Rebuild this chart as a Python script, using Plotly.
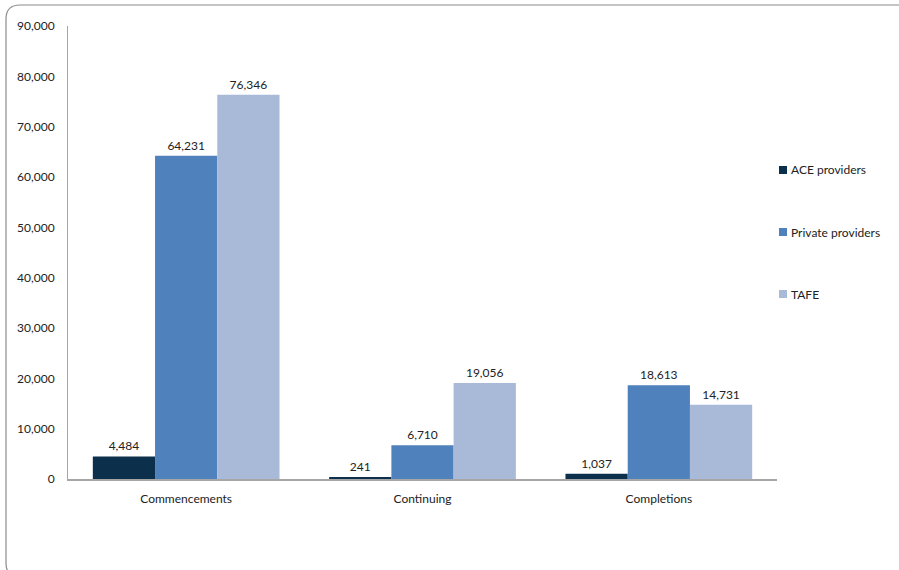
import plotly.graph_objects as go

categories = ["Commencements", "Continuing", "Completions"]
ace = [4484, 241, 1037]
private = [64231, 6710, 18613]
tafe = [76346, 19056, 14731]
series_names = ["ACE providers", "Private providers", "TAFE"]
colors = ["#0C2F4C", "#4F81BD", "#A9B9D8"]

W, H = 899, 570
L, R, T, B = 68, 777, 26, 479
FONT = "Lato, 'Open Sans', sans-serif"

fig = go.Figure()
for vals, name, col in zip([ace, private, tafe], series_names, colors):
    fig.add_trace(go.Bar(
        x=categories, y=vals, name=name, marker=dict(color=col, line=dict(width=0)),
        text=[f"{v:,}" for v in vals], textposition="outside", cliponaxis=False,
        textfont=dict(size=12, color="#222"), showlegend=False,
    ))

def px(x):
    return (x - L) / (R - L)

def py(y):
    return (B - y) / (B - T)

shapes = []
annotations = []
# manual legend (swatch + label)
legend_y = [170, 232, 294]
for name, col, ly in zip(series_names, colors, legend_y):
    shapes.append(dict(type="rect", xref="paper", yref="paper",
                       x0=px(779), x1=px(787), y0=py(ly + 4), y1=py(ly - 4),
                       fillcolor=col, line=dict(width=0)))
    annotations.append(dict(xref="paper", yref="paper", x=px(789), y=py(ly),
                            xanchor="left", yanchor="middle", text=name, showarrow=False,
                            font=dict(family=FONT, size=12, color="#222")))

# rounded border (extends past right and bottom edges)
x0, y0, x1, y1, r = 6, 5, 930, 577, 14
path = (f"M {px(x0+r)},{py(y0)} L {px(x1)},{py(y0)} L {px(x1)},{py(y1)} "
        f"L {px(x0+r)},{py(y1)} Q {px(x0)},{py(y1)} {px(x0)},{py(y1-r)} "
        f"L {px(x0)},{py(y0+r)} Q {px(x0)},{py(y0)} {px(x0+r)},{py(y0)} Z")
shapes.append(dict(type="path", xref="paper", yref="paper", path=path,
                   line=dict(color="#8c8c8c", width=1.2), fillcolor="rgba(0,0,0,0)", layer="below"))

fig.update_layout(
    width=W, height=H,
    margin=dict(l=L, r=W - R, t=T, b=H - B, autoexpand=False),
    paper_bgcolor="white", plot_bgcolor="white",
    barmode="group", bargap=0.21, bargroupgap=0,
    font=dict(family=FONT, size=12, color="#222"),
    showlegend=False,
    shapes=shapes, annotations=annotations,
    xaxis=dict(showline=True, linecolor="#a6a6a6", linewidth=1.5, ticks="", showgrid=False,
               tickfont=dict(size=12, color="#222"), ticklabelstandoff=8, automargin=False),
    yaxis=dict(range=[0, 90000], dtick=10000, showline=True, linecolor="#a6a6a6", linewidth=1,
               ticks="", showgrid=False, zeroline=False, tickformat=",",
               tickfont=dict(size=12, color="#222"), ticklabelstandoff=10, automargin=False),
)

fig.write_html("out.html", config={"displayModeBar": False},
               post_script="document.body.style.margin='0';document.body.style.overflow='hidden';")
